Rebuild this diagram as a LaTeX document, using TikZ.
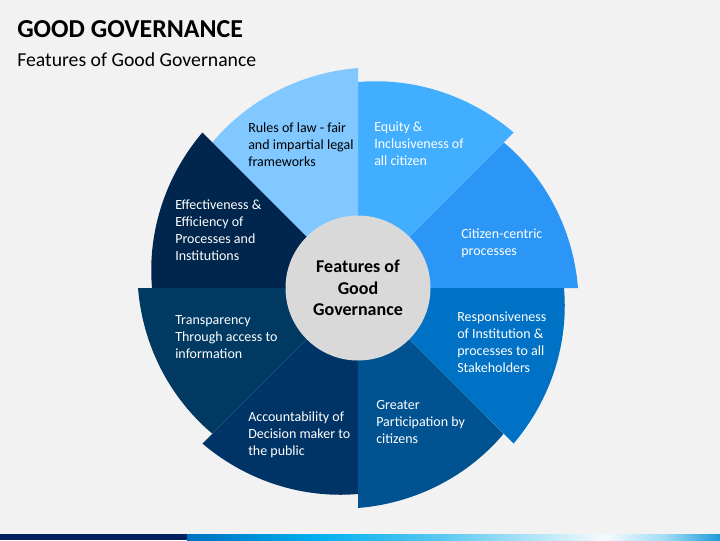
\documentclass[tikz,border=0pt]{standalone}
\usepackage{fontspec}
\setmainfont{Carlito}
\usetikzlibrary{positioning,calc}

\definecolor{bg}{HTML}{F2F2F2}
\definecolor{hub}{HTML}{D9D9D9}
\definecolor{rolc}{HTML}{80C8FF}
\definecolor{eqc}{HTML}{42AEFF}
\definecolor{ccc}{HTML}{2C96F6}
\definecolor{respc}{HTML}{0072C6}
\definecolor{gpc}{HTML}{005291}
\definecolor{accc}{HTML}{003366}
\definecolor{trc}{HTML}{003A62}
\definecolor{effc}{HTML}{00264D}
\definecolor{navy}{HTML}{002060}

% one wedge of the wheel: #1 = start angle, #2 = colour
\newcommand{\petal}[2]{%
	\fill[#2] (ctr) -- plot[domain=0:45, samples=30, variable=\t]
		({358+(206+14*\t/45)*cos(#1+45-\t)}, {288-(206+14*\t/45)*sin(#1+45-\t)}) -- cycle;}

\begin{document}
\begin{tikzpicture}[x=0.75pt, y=-0.75pt]
	\tikzstyle{every node}=[inner sep=0pt]
	\tikzstyle{feat}=[anchor=north west, align=left, text=white, font=\fontsize{10.5}{12.75}\selectfont]

	\useasboundingbox (0, 0) rectangle (720, 540);
	\fill[bg] (0, 0) rectangle (720, 540);

	\node[anchor=base west, font=\fontsize{19.4}{23}\selectfont\bfseries] (title) at (17, 37) {GOOD GOVERNANCE};
	\node[anchor=base west, font=\fontsize{14.8}{18}\selectfont] (sub) at (17, 66) {Features of Good Governance};

	\coordinate (ctr) at (358, 288);

	\petal{0}{ccc}
	\petal{45}{eqc}
	\petal{90}{rolc}
	\petal{135}{effc}
	\petal{180}{trc}
	\petal{225}{accc}
	\petal{270}{gpc}
	\petal{315}{respc}

	\fill[hub] (ctr) circle (72.5);
	\node[align=center, font=\fontsize{13.5}{16}\selectfont\bfseries] (hubtxt) at (ctr) {Features of\\Good\\Governance};

	\node[feat, text=black] (rol) at (248, 123)   {Rules of law - fair\\and impartial legal\\frameworks};
	\node[feat] (eq)   at (374, 121.5) {Equity \&\\Inclusiveness of\\all citizen};
	\node[feat] (cc)   at (461, 229)   {Citizen-centric\\processes};
	\node[feat] (resp) at (457, 312)   {Responsiveness\\of Institution \&\\processes to all\\Stakeholders};
	\node[feat] (gp)   at (376, 400)   {Greater\\Participation by\\citizens};
	\node[feat] (acc)  at (248, 412)   {Accountability of\\Decision maker to\\the public};
	\node[feat] (tr)   at (175, 315)   {Transparency\\Through access to\\information};
	\node[feat] (eff)  at (175, 200)   {Effectiveness \&\\Efficiency of\\Processes and\\Institutions};

	% bottom strip
	\fill[navy] (0, 534) rectangle (187, 540);
	\fill[left color={rgb,255:red,0;green,112;blue,192}, right color={rgb,255:red,0;green,176;blue,240}] (187, 534) rectangle (317, 540);
	\fill[left color={rgb,255:red,0;green,176;blue,240}, right color={rgb,255:red,90;green,200;blue,240}] (317, 534) rectangle (440, 540);
	\fill[left color={rgb,255:red,90;green,200;blue,240}, right color={rgb,255:red,245;green,250;blue,252}] (440, 534) rectangle (605, 540);
	\fill[left color={rgb,255:red,245;green,250;blue,252}, right color={rgb,255:red,160;green,220;blue,245}] (605, 534) rectangle (665, 540);
	\fill[left color={rgb,255:red,160;green,220;blue,245}, right color={rgb,255:red,30;green,154;blue,216}] (665, 534) rectangle (720, 540);
\end{tikzpicture}
\end{document}
